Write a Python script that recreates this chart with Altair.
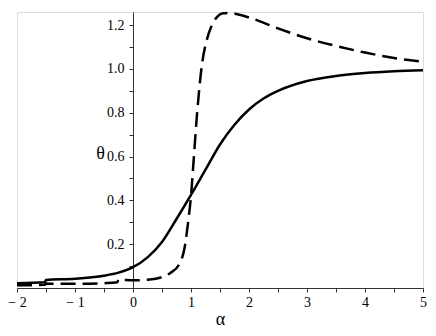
import altair as alt
import pandas as pd

# solid curve
solid_x = [-2.0, -1.52, -1.5, -1.0, -0.5, -0.25, 0.0, 0.25, 0.5, 0.75, 1.0, 1.25, 1.5,
           1.75, 2.0, 2.25, 2.5, 3.0, 3.5, 4.0, 4.5, 5.0]
solid_y = [0.022, 0.026, 0.037, 0.042, 0.056, 0.07, 0.095, 0.14, 0.21, 0.315, 0.425, 0.54,
           0.655, 0.745, 0.815, 0.865, 0.9, 0.945, 0.968, 0.981, 0.989, 0.994]

# dashed curve
dash_x = [-2.0, -1.52, -1.5, -1.0, -0.5, -0.27, -0.25, 0.0, 0.25, 0.5, 0.65, 0.8, 0.9, 0.95,
          1.0, 1.05, 1.1, 1.15, 1.2, 1.27, 1.36, 1.45, 1.55, 1.65, 1.8, 2.0, 2.5, 3.0,
          3.5, 4.0, 4.5, 5.0]
dash_y = [0.012, 0.015, 0.02, 0.019, 0.022, 0.026, 0.038, 0.035, 0.038, 0.05, 0.07, 0.11,
          0.2, 0.3, 0.42, 0.6, 0.78, 0.93, 1.04, 1.13, 1.2, 1.238, 1.254, 1.256, 1.25,
          1.235, 1.185, 1.14, 1.105, 1.075, 1.05, 1.033]

x_ticks = [-2 + 0.5 * i for i in range(15)]
y_ticks = [round(0.1 * i, 1) for i in range(1, 13)]

W, H = 406, 276
X_MIN, X_MAX = -2, 5
Y_MAX = 1.26

df_s = pd.DataFrame({"a": solid_x, "t": solid_y})
df_d = pd.DataFrame({"a": dash_x, "t": dash_y})

font = "Times New Roman"
y_off = -W * (0 - X_MIN) / (X_MAX - X_MIN)

xenc = alt.X("a:Q", scale=alt.Scale(domain=[X_MIN, X_MAX], nice=False, zero=False),
             axis=alt.Axis(values=x_ticks,
                           labelExpr="datum.value % 1 == 0 ? (datum.value < 0 ? '\u2212 ' + abs(datum.value) : '' + datum.value) : ''",
                           title="\u03b1", titleFont=font, titleFontSize=18, titleFontWeight="normal",
                           titleY=31, titleBaseline="middle",
                           labelFont=font, labelFontSize=14, labelColor="black",
                           labelFlush=False, labelOverlap=False, labelPadding=3,
                           tickSize=4, tickColor="#333", domainColor="#333", grid=False))
yenc = alt.Y("t:Q", scale=alt.Scale(domain=[0, Y_MAX], nice=False),
             axis=alt.Axis(values=y_ticks, offset=y_off,
                           labelExpr="round(datum.value * 10) % 2 == 0 ? format(datum.value, '.1f') : ''",
                           title="\u03b8", titleFont=font, titleFontSize=18, titleFontWeight="normal",
                           titleAngle=0, titleX=-33, titleY=141, titleAlign="center",
                           titleBaseline="middle",
                           labelFont=font, labelFontSize=14, labelColor="black",
                           labelFlush=False, labelOverlap=False, labelPadding=5,
                           tickSize=4, tickColor="#333", domainColor="#333", grid=False))

solid = alt.Chart(df_s).mark_line(color="black", strokeWidth=2.5, interpolate="monotone").encode(x=xenc, y=yenc)
dashed = alt.Chart(df_d).mark_line(color="black", strokeWidth=2.5, strokeDash=[15, 7],
                                   interpolate="monotone").encode(x=xenc, y=yenc)

chart = alt.layer(solid, dashed).properties(
    width=W, height=H,
    autosize=alt.AutoSizeParams(type="none"),
    padding={"left": 9, "top": 4, "right": 5, "bottom": 40},
).configure_view(stroke=None).configure(font=font)

chart.save("out.html", embed_options={"renderer": "svg", "actions": False})
